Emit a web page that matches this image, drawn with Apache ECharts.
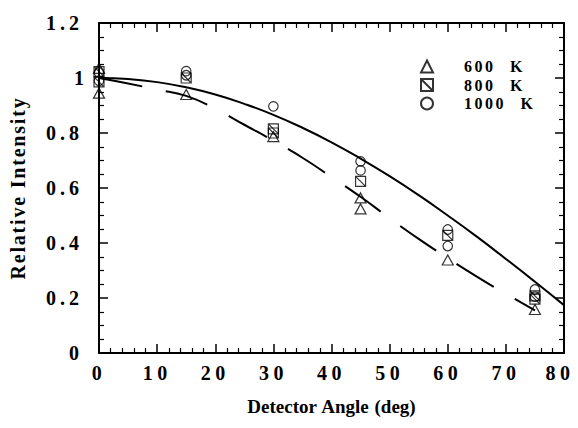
<!DOCTYPE html>
<html><head><meta charset="utf-8">
<script src="https://cdn.jsdelivr.net/npm/echarts@6/dist/echarts.min.js"></script>
<style>html,body{margin:0;padding:0;background:#fff}#c{width:578px;height:428px}</style>
</head><body><div id="c"></div>
<script>
// Measured data (detector angle in deg, relative intensity)
const tri600 = [[0,0.945],[0,1.035],[15,0.94],[30,0.787],[45,0.564],[45,0.524],[60,0.338],[75,0.158]];
const sq800 = [[0,1.023],[0,0.986],[15,1.0],[30,0.815],[30,0.80],[45,0.624],[60,0.428],[75,0.196],[75,0.208]];
const circ1000 = [[0,1.02],[0,0.99],[15,1.025],[15,1.01],[30,0.897],[45,0.697],[45,0.664],[60,0.449],[60,0.389],[75,0.231],[75,0.205]];
// Curves
const solidX = [0,5,10,15,20,25,30,35,40,45,50,55,60,65,70,75,80];
const solidY = [1.0,0.996,0.985,0.966,0.94,0.906,0.866,0.819,0.766,0.707,0.643,0.574,0.5,0.423,0.342,0.259,0.174];
const dashX = [0,5,10,15,20,25,30,35,40,45,50,55,60,65,70,75];
const dashY = [1.0,0.98,0.958,0.935,0.888,0.83,0.772,0.71,0.64,0.568,0.49,0.415,0.345,0.278,0.215,0.155];
const legendNames = ['600 K','800 K','1000 K'];
const xTitle = 'Detector Angle (deg)';
const yTitle = 'Relative Intensity';

const font = 'Liberation Serif';
const black = '#000';
const zip = (xs, ys) => xs.map((x, i) => [x, ys[i]]);

const frame = (splitNumber) => ({
  axisLine: {show: true, onZero: false, lineStyle: {color: black, width: 2}},
  axisTick: {show: true, inside: true, length: 9, lineStyle: {color: black, width: 1.5}},
  minorTick: {show: true, splitNumber: splitNumber, length: 5, lineStyle: {color: black, width: 1.2}},
  splitLine: {show: false}
});
const labelFont = {color: black, fontFamily: font, fontWeight: 'bold', fontSize: 20};

const chart = echarts.init(document.getElementById('c'), null, {renderer: 'svg'});
const sqPath = 'path://M0,0L10,0L10,10L0,10Z M0,0L10,10';
const open = {color: 'rgba(0,0,0,0)', borderColor: black, borderWidth: 1.2};

chart.setOption({
  animation: false,
  backgroundColor: '#fff',
  grid: {left: 99, right: 14, top: 23, bottom: 75, containLabel: false},
  legend: {
    orient: 'vertical', left: 420, top: 58.5, padding: 0,
    itemWidth: 12, itemHeight: 12, itemGap: 2.5,
    data: legendNames,
    textStyle: {color: black, fontFamily: font, fontWeight: 'bold', fontSize: 16, lineHeight: 16, padding: [0, 0, 0, 26]}
  },
  xAxis: [
    Object.assign({type: 'value', min: 0, max: 80, interval: 10, position: 'bottom',
      name: xTitle, nameLocation: 'middle', nameGap: 44,
      nameTextStyle: {color: black, fontFamily: font, fontWeight: 'bold', fontSize: 19},
      axisLabel: Object.assign({margin: 10}, labelFont)}, frame(5)),
    Object.assign({type: 'value', min: 0, max: 80, interval: 10, position: 'top', axisLabel: {show: false}}, frame(5))
  ],
  yAxis: [
    Object.assign({type: 'value', min: 0, max: 1.2, interval: 0.2, position: 'left',
      name: yTitle, nameLocation: 'middle', nameGap: 71, nameRotate: 90,
      nameTextStyle: {color: black, fontFamily: font, fontWeight: 'bold', fontSize: 20},
      axisLabel: Object.assign({margin: 16, formatter: v => String(Math.round(v * 10) / 10)}, labelFont)}, frame(4)),
    Object.assign({type: 'value', min: 0, max: 1.2, interval: 0.2, position: 'right', axisLabel: {show: false}}, frame(4))
  ],
  series: [
    {type: 'line', data: zip(solidX, solidY), smooth: true, showSymbol: false, silent: true,
     lineStyle: {color: black, width: 2}, z: 2},
    {type: 'line', data: zip(dashX, dashY), smooth: true, showSymbol: false, silent: true,
     lineStyle: {color: black, width: 2, type: [44, 24]}, z: 2},
    {name: legendNames[0], type: 'scatter', data: tri600, symbol: 'triangle', symbolSize: [11, 10], itemStyle: open, z: 3},
    {name: legendNames[1], type: 'scatter', data: sq800, symbol: sqPath, symbolSize: 10, itemStyle: open, z: 3},
    {name: legendNames[2], type: 'scatter', data: circ1000, symbol: 'circle', symbolSize: 9.5, itemStyle: open, z: 4}
  ]
});

// Typographic spacing of the original figure (wide letter spacing)
function spaceText() {
  document.querySelectorAll('#c svg text').forEach(t => {
    const s = t.textContent.trim();
    const anchor = t.getAttribute('text-anchor');
    let ls = 0, ws = 0, dx = 0;
    if (s === xTitle) { ls = 0; ws = 1; }
    else if (s === yTitle) { ls = 1.8; }
    else if (legendNames.indexOf(s) >= 0) { ls = 2.5; ws = 8; }
    else if (/^[0-9.]+$/.test(s)) {
      if (anchor === 'end') { ls = 4; dx = (s === '1' ? 5 : 0); }
      else { ls = 4.5; dx = (s === '80' ? -4 : 0); }
    } else return;
    t.style.letterSpacing = ls + 'px';
    if (ws) t.style.wordSpacing = ws + 'px';
    if (dx) t.setAttribute('dx', dx);
  });
}
spaceText();
chart.on('finished', spaceText);
</script></body></html>
